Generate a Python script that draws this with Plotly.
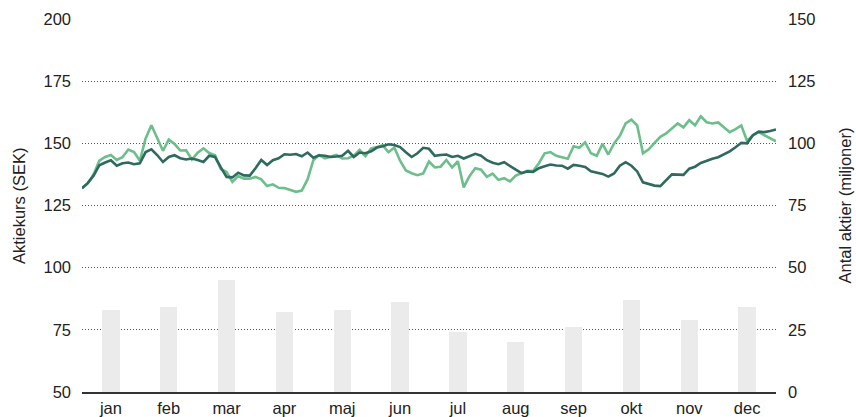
import plotly.graph_objects as go

months = ["jan", "feb", "mar", "apr", "maj", "jun", "jul", "aug", "sep", "okt", "nov", "dec"]
volume_mn = [33.0, 34.3, 45.2, 32.3, 33.0, 36.3, 24.2, 20.2, 26.2, 37.1, 29.0, 34.3]

# time position in months (0 = 1 jan, 12 = 31 dec), sampled every 0.1 month
time_pos = [round(i * 0.1, 1) for i in range(121)]

share_price = [
    131.9, 134.0, 137.0, 141.2, 142.3, 143.2, 141.0, 142.0, 142.3, 141.6,
    142.0, 146.5, 147.6, 145.3, 142.5, 144.5, 145.2, 144.0, 143.5, 143.9,
    143.3, 142.5, 145.0, 144.5, 140.3, 136.5, 136.3, 138.2, 137.1, 137.0,
    140.0, 143.3, 141.3, 143.2, 144.0, 145.6, 145.4, 145.7, 144.8, 146.3,
    144.2, 145.2, 145.0, 144.5, 144.7, 145.0, 147.0, 144.5, 146.3, 146.0,
    146.8, 148.3, 148.8, 149.6, 149.3, 148.5, 146.4, 144.5, 146.0, 148.2,
    147.8, 145.0, 145.3, 145.5, 144.5, 145.0, 143.9, 144.8, 145.8, 145.0,
    143.2, 142.2, 141.6, 142.4, 140.8, 139.4, 138.0, 138.7, 138.5, 140.0,
    140.8, 141.5, 141.1, 141.0, 139.8, 141.3, 141.0, 140.5, 138.8, 138.1,
    137.7, 136.6, 137.9, 141.0, 142.4, 141.0, 138.7, 134.3, 133.6, 133.0,
    132.8, 135.0, 137.5, 137.4, 137.3, 139.8, 140.6, 142.1, 143.1, 143.8,
    144.4, 145.5, 146.8, 148.4, 150.2, 150.0, 153.3, 154.7, 154.5, 155.0,
    155.6,
]

index_price = [
    131.9, 134.0, 137.5, 143.0, 144.5, 145.3, 143.3, 144.4, 147.5, 146.5,
    143.0, 152.0, 157.3, 152.3, 147.0, 151.5, 149.7, 147.1, 147.2, 143.5,
    146.2, 148.0, 146.1, 145.2, 139.7, 138.5, 134.5, 136.8, 135.8, 135.8,
    136.5, 135.5, 132.8, 133.5, 132.1, 132.0, 131.1, 130.5, 131.0, 135.5,
    143.2, 145.3, 144.0, 144.5, 145.3, 143.9, 144.0, 145.0, 147.4, 144.8,
    148.0, 148.5, 149.2, 146.4, 148.3, 143.0, 139.1, 138.0, 137.2, 137.9,
    142.7, 140.3, 140.6, 143.3, 140.3, 142.8, 132.3, 136.8, 140.0, 139.4,
    136.5, 137.8, 135.3, 136.0, 134.7, 137.0, 138.0, 139.0, 138.9, 142.0,
    146.0, 146.5, 145.0, 144.4, 143.8, 148.8, 148.2, 150.4, 146.0, 145.0,
    149.8, 145.5, 150.0, 153.0, 158.0, 159.5, 157.2, 146.0, 147.6, 150.2,
    152.6, 154.0, 156.0, 158.0, 156.4, 159.3, 157.3, 160.9, 158.5, 158.0,
    158.4, 156.5, 154.5, 155.7, 157.2, 151.0, 153.2, 154.5, 153.2, 152.0,
    150.8,
]

bar_pos = [i + 0.5 for i in range(12)]

FONT = "Liberation Sans, Arial, Helvetica, sans-serif"
DARK = "#2e6a5d"
LIGHT = "#6cbf8b"
TXT = "#222"
FS = 16.5

fig = go.Figure()
fig.add_trace(go.Bar(x=bar_pos, y=volume_mn, width=0.3, marker_color="#ebebeb",
                     marker_line_width=0, yaxis="y", showlegend=False, hoverinfo="skip"))
fig.add_trace(go.Scatter(x=time_pos, y=index_price, mode="lines", yaxis="y2",
                         line=dict(color=LIGHT, width=2.6), showlegend=False))
fig.add_trace(go.Scatter(x=time_pos, y=share_price, mode="lines", yaxis="y2",
                         line=dict(color=DARK, width=2.6), showlegend=False))

fig.update_layout(
    width=856, height=417,
    margin=dict(l=82, r=80, t=19, b=25),
    paper_bgcolor="white", plot_bgcolor="white",
    font=dict(family=FONT, size=FS, color=TXT),
    bargap=0,
    xaxis=dict(range=[0, 12], tickvals=bar_pos, ticktext=months, showgrid=False,
               zeroline=False, showline=True, linecolor="#333", linewidth=2,
               ticks="", tickfont=dict(size=FS, color=TXT), fixedrange=True,
               automargin=False),
    yaxis=dict(side="right", range=[0, 150], tickvals=[0, 25, 50, 75, 100, 125, 150],
               showgrid=True, gridcolor="#555", griddash="1px,2px", gridwidth=1,
               zeroline=False, ticks="", ticklabelstandoff=11, automargin=False),
    yaxis2=dict(side="left", overlaying="y", range=[50, 200],
                tickvals=[50, 75, 100, 125, 150, 175, 200], showgrid=False,
                zeroline=False, ticks="", ticklabelstandoff=10, automargin=False),
    annotations=[
        dict(text="Aktiekurs (SEK)", xref="paper", yref="paper", x=-0.0915, y=0.5,
             xanchor="center", yanchor="middle", textangle=-90, showarrow=False,
             font=dict(size=FS, color=TXT)),
        dict(text="Antal aktier (miljoner)", xref="paper", yref="paper", x=1.0994, y=0.5,
             xanchor="center", yanchor="middle", textangle=-90, showarrow=False,
             font=dict(size=FS, color=TXT)),
    ],
)

fig.write_html(
    "out.html",
    config={"displayModeBar": False},
    post_script="document.body.style.margin='0';document.body.style.overflow='hidden';",
)
